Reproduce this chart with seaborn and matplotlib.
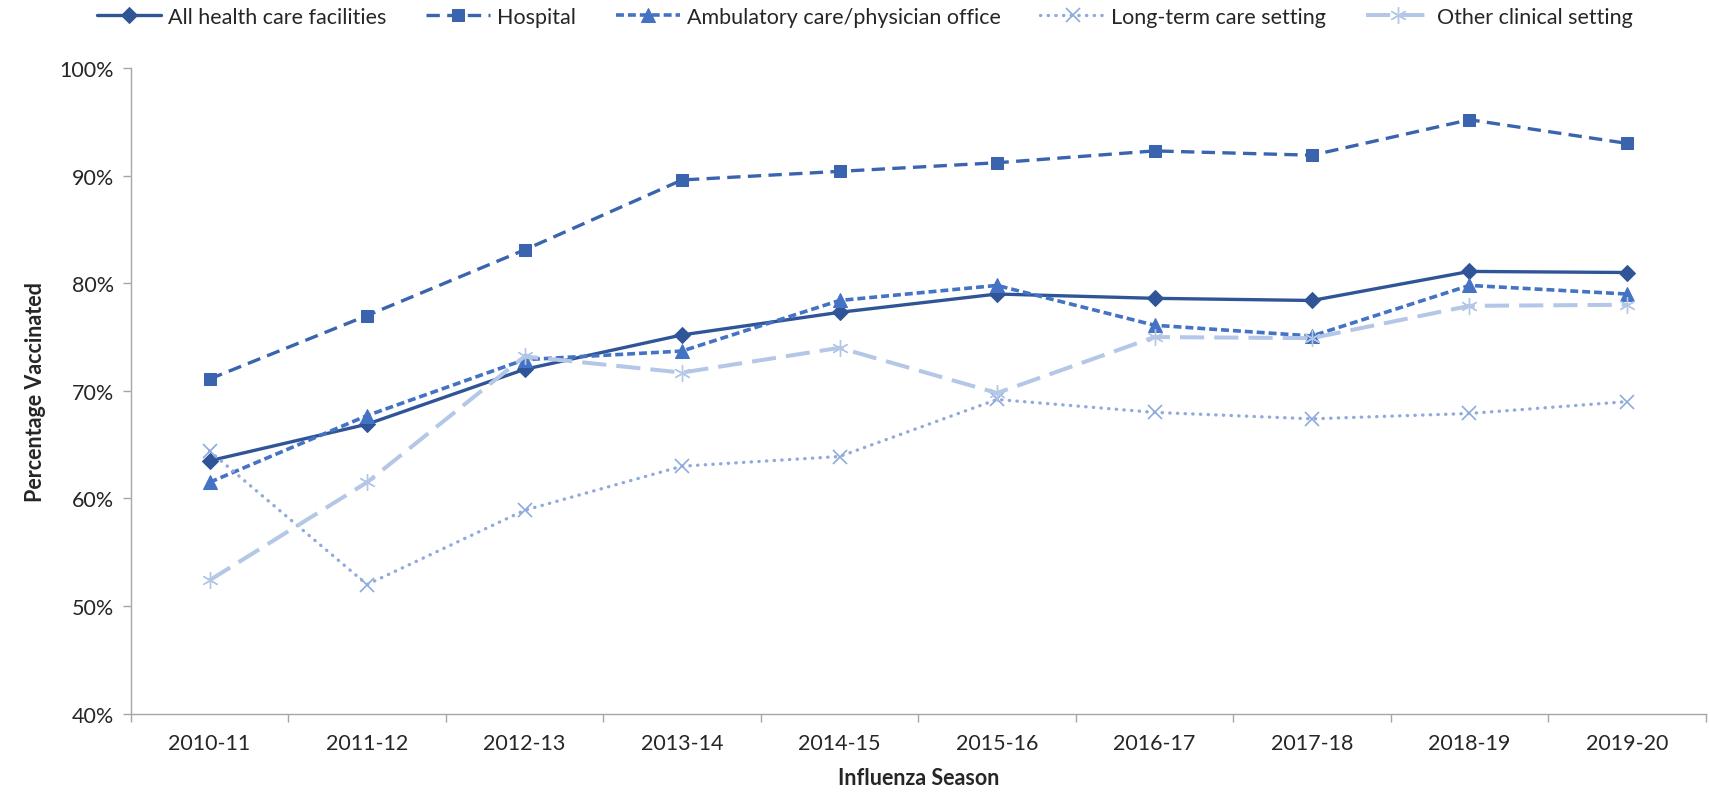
import matplotlib
matplotlib.use("Agg")
import matplotlib.pyplot as plt
import seaborn as sns
import pandas as pd
from matplotlib.ticker import FixedLocator, PercentFormatter

seasons = ['2010-11', '2011-12', '2012-13', '2013-14', '2014-15',
           '2015-16', '2016-17', '2017-18', '2018-19', '2019-20']

all_facilities = [63.5, 66.9, 72.0, 75.2, 77.3, 79.0, 78.6, 78.4, 81.1, 81.0]
hospital = [71.1, 77.0, 83.1, 89.6, 90.4, 91.2, 92.3, 91.9, 95.2, 93.0]
ambulatory = [61.5, 67.7, 72.9, 73.7, 78.4, 79.8, 76.1, 75.1, 79.8, 79.0]
long_term = [64.4, 52.0, 58.9, 63.0, 63.9, 69.2, 68.0, 67.4, 67.9, 69.0]
other_clinical = [52.4, 61.5, 73.2, 71.7, 74.0, 69.8, 75.0, 74.9, 77.9, 78.0]

series = [
    ('All health care facilities', all_facilities),
    ('Hospital', hospital),
    ('Ambulatory care/physician office', ambulatory),
    ('Long-term care setting', long_term),
    ('Other clinical setting', other_clinical),
]

# style per series (Excel-like look)
styles = {
    'All health care facilities': dict(color='#2F5597', marker='D', linestyle='-', linewidth=2.4,
                                       markersize=8),
    'Hospital': dict(color='#3A64AE', marker='s', linestyle=(0, (4, 2.2)), linewidth=2.4,
                     markersize=9),
    'Ambulatory care/physician office': dict(color='#4472C4', marker='^', linestyle=(0, (2.2, 1.1)),
                                             linewidth=2.6, markersize=10),
    'Long-term care setting': dict(color='#8FAADC', marker='x', linestyle=(0, (0.1, 2.2)),
                                   linewidth=2.4, markersize=10, markeredgewidth=1.2,
                                   dash_capstyle='round'),
    'Other clinical setting': dict(color='#B4C7E7', marker=(6, 2, 0), linestyle=(0, (6, 2.5)),
                                   linewidth=2.9, markersize=12, markeredgewidth=1.0),
}

sns.set_theme(style="white")
plt.rcParams['font.family'] = ['Lato', 'DejaVu Sans']

fig = plt.figure(figsize=(17.1, 8.03), dpi=100)
ax = fig.add_axes([0.0765, 0.11, 0.921, 0.804])

df = pd.DataFrame({'season': seasons})
for name, vals in series:
    df[name] = vals
    sns.lineplot(data=df, x='season', y=name, ax=ax, label=name, sort=False,
                 markeredgecolor=styles[name]['color'], **styles[name])

ax.set_xlim(-0.5, len(seasons) - 0.5)
ax.set_ylim(40, 100)
ax.yaxis.set_major_locator(FixedLocator(range(40, 101, 10)))
ax.yaxis.set_major_formatter(PercentFormatter(decimals=0))

# category boundary ticks like Excel
ax.xaxis.set_minor_locator(FixedLocator([i - 0.5 for i in range(len(seasons) + 1)]))
ax.tick_params(axis='x', which='major', length=0, pad=14, labelsize=15.5)
ax.tick_params(axis='x', which='minor', length=6, width=1, color='#A6A6A6', direction='out', bottom=True)
ax.tick_params(axis='y', which='major', length=6, width=1, color='#A6A6A6', direction='out', left=True,
               labelsize=15.5, pad=6)

for s in ['top', 'right']:
    ax.spines[s].set_visible(False)
for s in ['left', 'bottom']:
    ax.spines[s].set_color('#A6A6A6')
    ax.spines[s].set_linewidth(1)

ax.set_xlabel('Influenza Season', fontsize=15.5, fontweight='bold', labelpad=10)
ax.set_ylabel('Percentage Vaccinated', fontsize=15.5, fontweight='bold', labelpad=10)

ax.legend(loc='upper center', bbox_to_anchor=(0.466, 1.125), ncol=5, frameon=False,
          fontsize=15.5, handlelength=3.0, columnspacing=1.85, handletextpad=0.3)

fig.savefig('out.png', dpi=100)
